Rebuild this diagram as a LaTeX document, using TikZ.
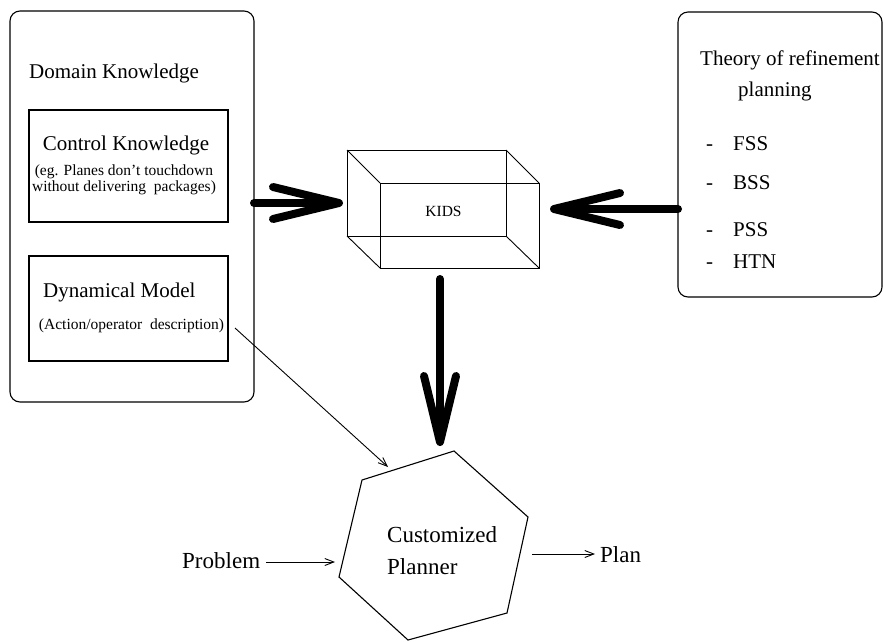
\documentclass[tikz,border=0pt]{standalone}
\usepackage{fontspec}
\setmainfont{Liberation Serif}
\usetikzlibrary{arrows.meta}
\begin{document}
\begin{tikzpicture}[x=1pt,y=-1pt,
  box/.style={draw,line width=1.1pt,inner sep=0pt,outer sep=0pt},
  rbox/.style={box,rounded corners=10pt},
  bigarrow/.style={line width=8pt,line cap=round,-{Straight Barb[length=66pt,width=32pt,round]}},
  thinarrow/.style={line width=0.9pt,-{Straight Barb[length=9pt,width=7pt]}},
  txt/.style={inner sep=0pt,anchor=base west,font=\fontsize{21}{25}\selectfont},
  small/.style={inner sep=0pt,font=\fontsize{15.5}{16}\selectfont},
  big/.style={inner sep=0pt,anchor=base west,font=\fontsize{23}{27}\selectfont},
  edge3d/.style={line width=0.9pt}
]
\useasboundingbox (0,0) rectangle (883,641);

% Domain knowledge box
\node[rbox,minimum width=244pt,minimum height=391pt] (dk) at (132,206.5) {};
\node[txt] (dkt) at (29,78) {Domain Knowledge};
\node[box,minimum width=199pt,minimum height=112pt] (ck) at (128.5,166) {};
\node[txt,anchor=base] (ckt) at (126,150) {Control Knowledge};
\node[small,align=center,anchor=base] (ckd) at (124,191) {(eg. Planes don't touchdown\\without delivering\ \ packages)};
\node[box,minimum width=199pt,minimum height=105pt] (dm) at (128.5,308.5) {};
\node[txt] (dmt) at (43,297) {Dynamical Model};
\node[small,anchor=base] (dmd) at (131.5,329) {(Action/operator\ \ description)};

% Theory box
\node[rbox,minimum width=204pt,minimum height=285pt] (th) at (780,154.5) {};
\node[txt] (th1) at (700,65) {Theory of refinement};
\node[txt] (th2) at (738,96) {planning};
\foreach \n/\y/\t in {fss/150/FSS,bss/189/BSS,pss/236/PSS,htn/268/HTN}{
  \node[txt] (d\n) at (706,\y) {-};
  \node[txt] (\n) at (733,\y) {\t};
}

% KIDS cube
\coordinate (b1) at (347,150); \coordinate (b2) at (506,150);
\coordinate (b3) at (506,236); \coordinate (b4) at (347,236);
\coordinate (f1) at (380,183); \coordinate (f2) at (539,183);
\coordinate (f3) at (539,268); \coordinate (f4) at (380,268);
\draw[edge3d] (b1) -- (b2) -- (b3) -- (b4) -- cycle;
\draw[edge3d] (f1) -- (f2) -- (f3) -- (f4) -- cycle;
\draw[edge3d] (b1) -- (f1) (b2) -- (f2) (b3) -- (f3) (b4) -- (f4);
\node[small,anchor=base] (kids) at (443.5,216) {KIDS};

% Hexagon
\coordinate (h1) at (362,480); \coordinate (h2) at (454,451);
\coordinate (h3) at (528,517); \coordinate (h4) at (507,613);
\coordinate (h5) at (408,640); \coordinate (h6) at (339,577);
\draw[line width=1.1pt] (h1) -- (h2) -- (h3) -- (h4) -- (h5) -- (h6) -- cycle;
\node[big] (cp1) at (387,542) {Customized};
\node[big] (cp2) at (387,574) {Planner};

% Problem and Plan
\node[big] (prob) at (182,568) {Problem};
\node[big] (plan) at (600,562) {Plan};
\coordinate (probIn) at (335,562);
\coordinate (planOut) at (532,554);
\coordinate (planIn) at (595,554);
\draw[thinarrow] (prob.east |- probIn) ++(6,0) -- (probIn);
\draw[thinarrow] (planOut) -- (planIn);

% Big arrows
\coordinate (kidsIn) at (343,203);
\coordinate (kidsInR) at (550,209);
\coordinate (kidsOut) at (440,279);
\coordinate (hexIn) at (440,446);
\draw[bigarrow] (dk.east |- kidsIn) -- (kidsIn);
\draw[bigarrow] (th.west |- kidsInR) -- (kidsInR);
\draw[bigarrow] (kidsOut) -- (hexIn);

% Thin arrow from dynamical model
\coordinate (dmOut) at (235,328);
\coordinate (hexTL) at (388,467);
\draw[thinarrow] (dmOut) -- (hexTL);
\end{tikzpicture}
\end{document}
